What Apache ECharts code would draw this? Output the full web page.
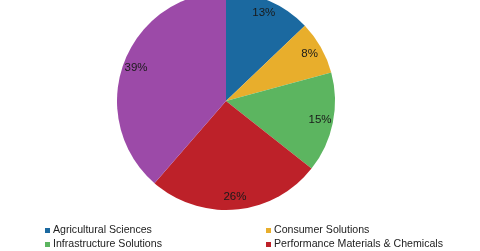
<!DOCTYPE html>
<html><head><meta charset="utf-8">
<script src="https://cdn.jsdelivr.net/npm/echarts@6/dist/echarts.min.js"></script>
<style>html,body{margin:0;padding:0;background:#fff}#c{width:480px;height:251px}</style>
</head><body><div id="c"></div>
<script>
const categories = ["Agricultural Sciences","Consumer Solutions","Infrastructure Solutions","Performance Materials & Chemicals","Nutrition & Health"];
const shares = [13, 8, 15, 26, 39];
const colors = ["#1b69a0","#e8ae2c","#5cb560","#bd2129","#9c4aa8"];
const legendItems = ["Agricultural Sciences","Consumer Solutions","Infrastructure Solutions","Performance Materials & Chemicals"];

const data = categories.map((n,i)=>({name:n,value:shares[i],itemStyle:{color:colors[i]}}));
const chart = echarts.init(document.getElementById('c'));
const legendPos = [[45,225],[266,225],[45,239],[266,239]];
const legends = legendItems.map((n,i)=>({
  orient:'horizontal', left:legendPos[i][0], top:legendPos[i][1], itemWidth:5, itemHeight:5, icon:'rect',
  textStyle:{fontFamily:'Liberation Sans', fontSize:10.6, color:'#222', padding:[0,0,0,-2]}, padding:0,
  selectedMode:false, data:[n]}));
chart.setOption({
  animation:false,
  legend:legends,
  series:[
    {type:'pie', center:[226,101], radius:[0,109], startAngle:90, clockwise:true,
     data:data, label:{show:false}, labelLine:{show:false}, itemStyle:{borderWidth:0}, emphasis:{disabled:true}},
    {type:'pie', center:[226,101], radius:[77,109], startAngle:90, clockwise:true, silent:true,
     data:categories.map((n,i)=>({name:n+' ',value:shares[i]})),
     itemStyle:{color:'rgba(0,0,0,0)'},
     label:{show:true, position:'inside', formatter:p=>p.value+'%', fontFamily:'Liberation Sans', fontSize:11.5, color:'#1a1a1a'},
     labelLine:{show:false}, emphasis:{disabled:true}}
  ]
});
</script></body></html>
